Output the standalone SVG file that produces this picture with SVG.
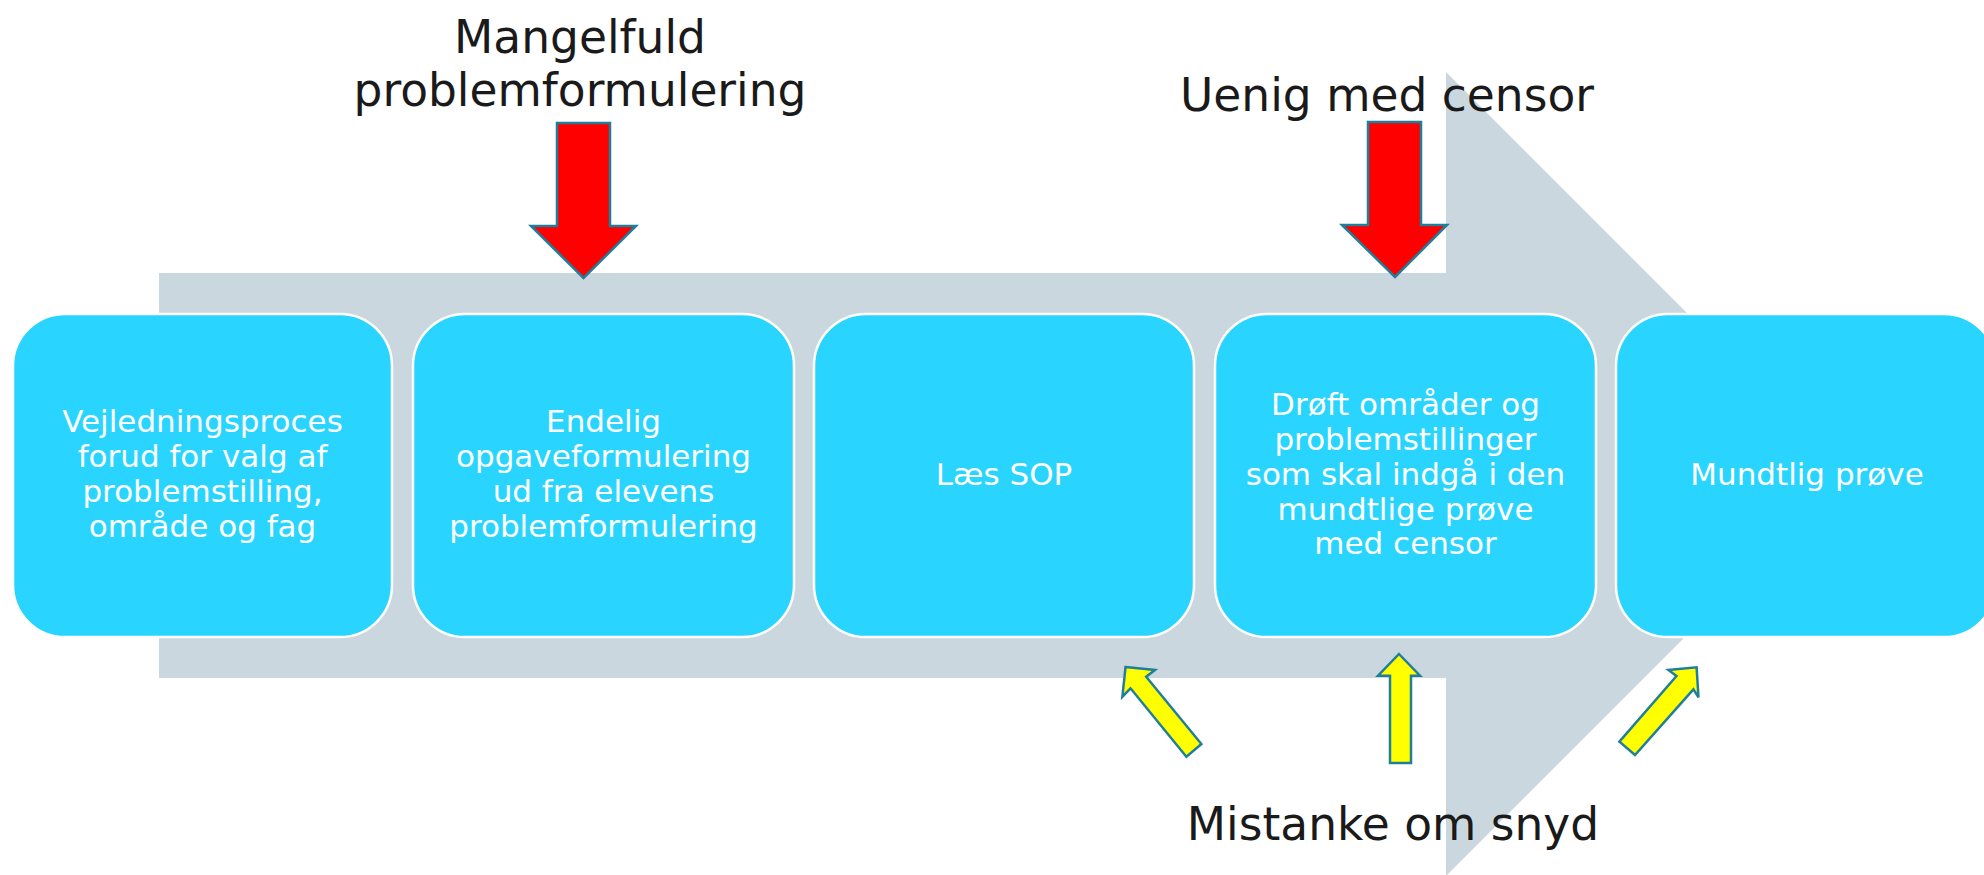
<svg xmlns="http://www.w3.org/2000/svg" width="1984" height="875" viewBox="0 0 1984 875">
<style>
.box{fill:#29d5ff;stroke:#ffffff;stroke-width:2.5}
.bt{font-family:"DejaVu Sans",Verdana,sans-serif;font-size:31px;fill:#ffffff;text-anchor:middle}
.tt{font-family:"DejaVu Sans",Verdana,sans-serif;font-size:45.5px;fill:#1a1a1a;text-anchor:middle}
.red{fill:#ff0000;stroke:#1f7f9a;stroke-width:2.5;stroke-linejoin:miter}
.yel{fill:#ffff00;stroke:#1f7f9a;stroke-width:2.5;stroke-linejoin:miter}
</style>
<rect x="0" y="0" width="1984" height="875" fill="#ffffff"/>
<g id="backarrow">
<polygon points="159,273 1446,273 1446,72 1848,474 1446,876 1446,678 159,678" fill="#cbd7de"/>
</g>
<g id="node1">
<rect class="box" x="13" y="314" width="379" height="323" rx="52" ry="52"/>
<text class="bt" x="202.5"><tspan x="202.5" y="432">Vejledningsproces</tspan><tspan x="202.5" y="467">forud for valg af</tspan><tspan x="202.5" y="502">problemstilling,</tspan><tspan x="202.5" y="537">område og fag</tspan></text>
</g>
<g id="node2">
<rect class="box" x="413" y="314" width="381" height="323" rx="52" ry="52"/>
<text class="bt" x="603.5"><tspan x="603.5" y="432">Endelig</tspan><tspan x="603.5" y="467">opgaveformulering</tspan><tspan x="603.5" y="502">ud fra elevens</tspan><tspan x="603.5" y="537">problemformulering</tspan></text>
</g>
<g id="node3">
<rect class="box" x="814" y="314" width="380" height="323" rx="52" ry="52"/>
<text class="bt" x="1004" y="485">Læs SOP</text>
</g>
<g id="node4">
<rect class="box" x="1215" y="314" width="381" height="323" rx="52" ry="52"/>
<text class="bt" x="1405.5"><tspan x="1405.5" y="415">Drøft områder og</tspan><tspan x="1405.5" y="450">problemstillinger</tspan><tspan x="1405.5" y="485">som skal indgå i den</tspan><tspan x="1405.5" y="520">mundtlige prøve</tspan><tspan x="1405.5" y="554">med censor</tspan></text>
</g>
<g id="node5">
<rect class="box" x="1616" y="314" width="380" height="323" rx="52" ry="52"/>
<text class="bt" x="1807" y="485">Mundtlig prøve</text>
</g>
<g id="label-mangelfuld">
<text class="tt"><tspan x="580" y="53">Mangelfuld</tspan><tspan x="580" y="106">problemformulering</tspan></text>
</g>
<g id="label-uenig">
<text class="tt" x="1387" y="111">Uenig med censor</text>
</g>
<g id="label-mistanke">
<text class="tt" x="1393" y="840">Mistanke om snyd</text>
</g>
<g id="connectors">
<polygon class="red" points="557,123 610,123 610,226 636,226 583.5,278 531,226 557,226"/>
<polygon class="red" points="1368,122 1421,122 1421,225 1447,225 1395,277 1342,225 1368,225"/>
<polygon class="yel" points="1125.5,667 1155,670 1146.2,676.7 1201.4,744 1186.4,756.7 1130.5,688.3 1122.4,696.7"/>
<polygon class="yel" points="1399,654 1420,675.7 1411,675.7 1411,763 1390,763 1390,675.7 1378,675.7"/>
<polygon class="yel" points="1696.6,667.3 1698.5,697.3 1693.4,689.3 1635,755 1619.4,741.7 1676.5,676 1668.4,670"/>
</g>
</svg>
